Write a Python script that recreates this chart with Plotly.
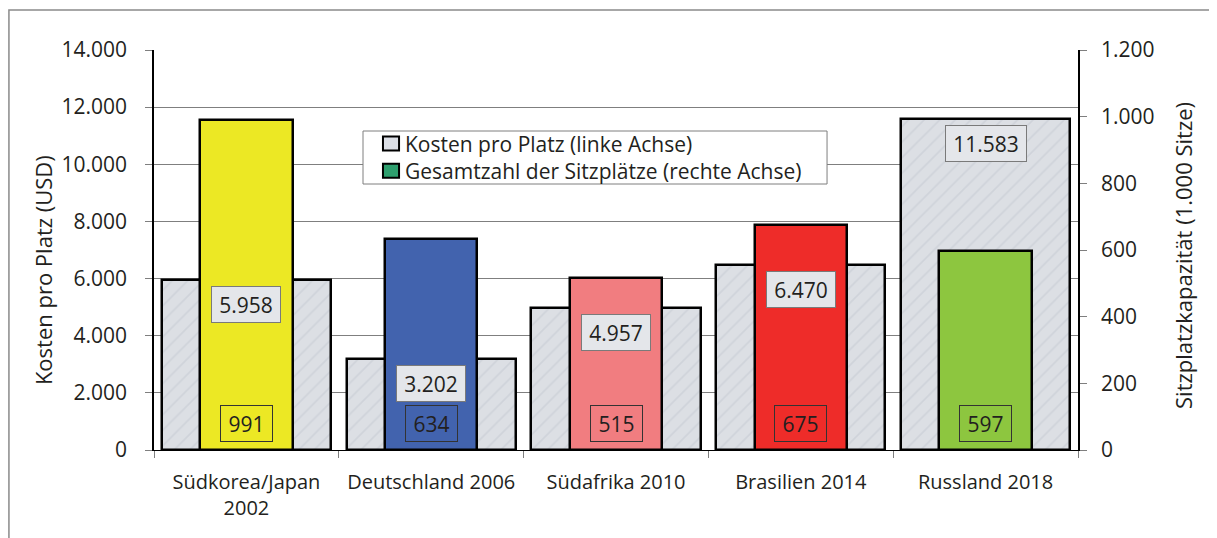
import plotly.graph_objects as go

# --- data ---
categories = ['Südkorea/Japan<br>2002', 'Deutschland 2006', 'Südafrika 2010',
              'Brasilien 2014', 'Russland 2018']
cost_per_seat = [5958, 3202, 4957, 6470, 11583]   # USD, left axis
total_seats = [991, 634, 515, 675, 597]           # 1.000 seats, right axis
seat_colors = ['#ece824', '#4263ae', '#f17d80', '#ee2c29', '#8dc63f']

legend_names = ['Kosten pro Platz (linke Achse)',
                'Gesamtzahl der Sitzplätze (rechte Achse)']
legend_colors = ['#dcdfe6', '#2e9f6e']

left_title = 'Kosten pro Platz (USD)'
right_title = 'Sitzplatzkapazität (1.000 Sitze)'

FONT = 'Open Sans'
MARBLE = '#dcdfe4'
TXT = '#231f20'


def de(v):
    return f'{v:,}'.replace(',', '.')


fig = go.Figure()

# wide marble-like bars: cost per seat
fig.add_bar(x=categories, y=cost_per_seat, width=0.915, yaxis='y',
            marker=dict(color=MARBLE, line=dict(color='black', width=2.5),
                        pattern=dict(shape='/', fgcolor='#c2c7cf', bgcolor=MARBLE,
                                     size=11, solidity=0.15, fillmode='overlay')),
            showlegend=False, hoverinfo='skip')

# narrow coloured bars: total seats
fig.add_bar(x=categories, y=total_seats, width=0.5, yaxis='y2',
            marker=dict(color=seat_colors, line=dict(color='black', width=2.5)),
            showlegend=False, hoverinfo='skip')

# --- value labels ---
for cat, c, s, col in zip(categories, cost_per_seat, total_seats, seat_colors):
    fig.add_annotation(x=cat, y=c, yref='y', text=de(c), showarrow=False,
                       yanchor='top', yshift=-6, width=12 * len(de(c)), height=27,
                       font=dict(family=FONT, size=21, color=TXT),
                       bgcolor='#e4e6ea', bordercolor='#7a7a7a', borderwidth=1,
                       borderpad=4)
    fig.add_annotation(x=cat, y=0, yref='y', text=de(s), showarrow=False,
                       yanchor='bottom', yshift=8, width=43, height=27,
                       font=dict(family=FONT, size=21, color=TXT),
                       bgcolor=col, bordercolor='#333333', borderwidth=1,
                       borderpad=4)

# --- axis titles ---
fig.add_annotation(x=-0.120, y=0.45, xref='paper', yref='paper', text=left_title,
                   textangle=-90, showarrow=False, xanchor='center', yanchor='middle',
                   font=dict(family=FONT, size=22, color=TXT))
fig.add_annotation(x=1.1136, y=0.4875, xref='paper', yref='paper', text=right_title,
                   textangle=-90, showarrow=False, xanchor='center', yanchor='middle',
                   font=dict(family=FONT, size=22, color=TXT))

# --- legend box (drawn by hand to get the compact spacing) ---
fig.add_shape(type='rect', xref='paper', yref='paper',
              x0=0.2262, x1=0.7284, y0=0.665, y1=0.7975,
              fillcolor='white', line=dict(color='#7f7f7f', width=1))
for i, col in enumerate(legend_colors):
    y_mid = 0.7665 - i * 0.0683
    fig.add_shape(type='rect', xref='paper', yref='paper',
                  x0=0.2478, x1=0.2652, y0=y_mid - 0.0175, y1=y_mid + 0.0175,
                  fillcolor=col, line=dict(color='black', width=2))
fig.add_annotation(x=0.2695, y=0.7325, xref='paper', yref='paper',
                   text='<br>'.join(legend_names), align='left',
                   xanchor='left', yanchor='middle', showarrow=False,
                   font=dict(family=FONT, size=21, color=TXT))

# outer frame (left and top edges)
fig.add_shape(type='path', xref='paper', yref='paper',
              path='M -0.157,-0.3 L -0.157,1.1 L 1.2,1.1',
              line=dict(color='#8a8a8a', width=1.5))

fig.update_layout(
    width=1217, height=538,
    margin=dict(l=146, r=147, t=42, b=96),
    paper_bgcolor='white', plot_bgcolor='white',
    barmode='overlay', bargap=0, showlegend=False,
    separators=',.',
    font=dict(family=FONT, size=20, color=TXT),
    xaxis=dict(tickson='boundaries', ticks='outside', ticklen=7,
               tickcolor='#7f7f7f', showline=True, linecolor='black',
               linewidth=1, showgrid=False, ticklabelstandoff=14,
               tickangle=0, automargin=False,
               tickfont=dict(family=FONT, size=20)),
    yaxis=dict(range=[0, 14000], dtick=2000, tickformat=',d',
               showgrid=True, gridcolor='#7f7f7f', gridwidth=1,
               showline=True, linecolor='black', linewidth=1.5,
               ticks='outside', ticklen=7, tickcolor='#7f7f7f',
               zeroline=False, ticklabelstandoff=14, automargin=False,
               tickfont=dict(family=FONT, size=21)),
    yaxis2=dict(range=[0, 1200], dtick=200, tickformat=',d',
                overlaying='y', side='right', showgrid=False,
                showline=True, linecolor='black', linewidth=1.5,
                ticks='outside', ticklen=7, tickcolor='#7f7f7f',
                zeroline=False, ticklabelstandoff=10, automargin=False,
                tickfont=dict(family=FONT, size=21)),
)

fig.write_html('out.html')
